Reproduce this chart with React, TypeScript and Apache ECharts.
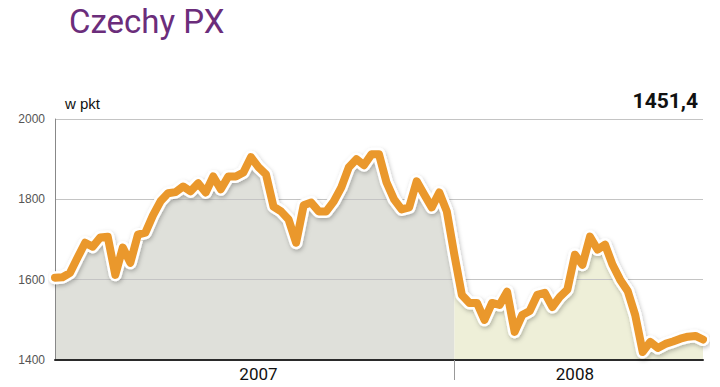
import React, { useEffect, useRef } from "react";
import * as echarts from "echarts";

const values2007 = [
  1605, 1606, 1617, 1655, 1692, 1682, 1705, 1707, 1612, 1680, 1642, 1712, 1717, 1760,
  1795, 1815, 1818, 1832, 1820, 1840, 1817, 1857, 1825, 1857, 1857, 1867, 1905, 1880,
  1862, 1782, 1770, 1750, 1692, 1785, 1792, 1770, 1770, 1795, 1830, 1880, 1900, 1885,
  1912, 1912, 1842, 1800, 1775, 1780, 1845, 1812, 1780, 1817, 1770,
];
const values2008 = [
  1662, 1562, 1542, 1542, 1500, 1542, 1537, 1570, 1470, 1512, 1522, 1562, 1567, 1532,
  1557, 1575, 1662, 1637, 1707, 1675, 1687, 1637, 1600, 1572, 1512, 1420, 1445, 1430,
  1440, 1446, 1453, 1458, 1460, 1451,
];
const yearLabels = ["2007", "2008"];
const yTicks = [1400, 1600, 1800, 2000];
const lastValueLabel = "1451,4";
const unitLabel = "w pkt";
const titleText = "Czechy PX";

const allValues = [...values2007, ...values2008];
const categories = allValues.map((_, i) =>
  i < values2007.length ? `${yearLabels[0]}-${i + 1}` : `${yearLabels[1]}-${i - values2007.length + 1}`
);
const boundary = values2007.length; // first 2008 index
const gray = allValues.map((v, i) => (i <= boundary ? v : null));
const yellow = allValues.map((v, i) => (i >= boundary ? v : null));
const label2007 = 27;
const label2008 = 69;

export default function App() {
  const ref = useRef<HTMLDivElement>(null);
  useEffect(() => {
    document.body.style.margin = "0";
    if (!ref.current) return;
    const chart = echarts.init(ref.current, null, { renderer: "svg" });
    chart.setOption({
      animation: false,
      backgroundColor: "#ffffff",
      title: {
        text: titleText,
        left: 64,
        top: 0,
        textStyle: { fontFamily: "Roboto", fontSize: 33, fontWeight: "normal", color: "#6B2D7B" },
      },
      graphic: [
        {
          type: "text",
          left: 65,
          top: 96,
          style: { text: unitLabel, fontFamily: "Liberation Sans", fontSize: 15, fill: "#111" },
        },
        {
          type: "text",
          right: 22,
          top: 90,
          style: { text: lastValueLabel, fontFamily: "Roboto", fontSize: 21, fontWeight: "bold", fill: "#111" },
        },
      ],
      grid: { left: 55, right: 17, top: 119, bottom: 27 },
      xAxis: {
        type: "category",
        data: categories,
        boundaryGap: false,
        axisLine: { show: true, lineStyle: { color: "#2a2a2a", width: 2 } },
        axisTick: {
          show: true,
          interval: (i: number) => i === boundary,
          length: 20,
          lineStyle: { color: "#999", width: 1 },
        },
        axisLabel: {
          interval: (i: number) => i === label2007 || i === label2008,
          formatter: (v: string) => v.slice(0, 4),
          fontFamily: "Roboto",
          fontSize: 17,
          color: "#111",
          margin: 5,
        },
        splitLine: { show: false },
      },
      yAxis: {
        type: "value",
        min: yTicks[0],
        max: yTicks[yTicks.length - 1],
        interval: 200,
        axisLine: { show: true, lineStyle: { color: "#888", width: 1 } },
        axisTick: { show: false },
        axisLabel: {
          fontFamily: "Liberation Sans",
          fontSize: 12,
          color: "#555",
          margin: 10,
          formatter: (v: number) => String(v),
        },
        splitLine: { show: true, lineStyle: { color: "#c4c4c4", width: 1 } },
      },
      series: [
        {
          type: "line",
          data: gray,
          symbol: "none",
          z: -1,
          lineStyle: { width: 0 },
          areaStyle: { color: "#dfe0da", opacity: 1 },
          silent: true,
        },
        {
          type: "line",
          data: yellow,
          symbol: "none",
          z: -1,
          lineStyle: { width: 0 },
          areaStyle: { color: "#eeefd8", opacity: 1 },
          silent: true,
        },
        {
          type: "line",
          data: allValues,
          symbol: "none",
          z: 3,
          lineStyle: {
            color: "#ffffff",
            width: 13,
            join: "round",
            cap: "round",
            shadowColor: "rgba(0,0,0,0.25)",
            shadowBlur: 4,
            shadowOffsetX: 1,
            shadowOffsetY: 2,
          },
          silent: true,
        },
        {
          type: "line",
          data: allValues,
          symbol: "none",
          z: 4,
          lineStyle: { color: "#EA982C", width: 8, join: "round", cap: "round" },
          silent: true,
        },
      ],
    });
    return () => chart.dispose();
  }, []);
  return <div ref={ref} style={{ width: 720, height: 387 }} />;
}
